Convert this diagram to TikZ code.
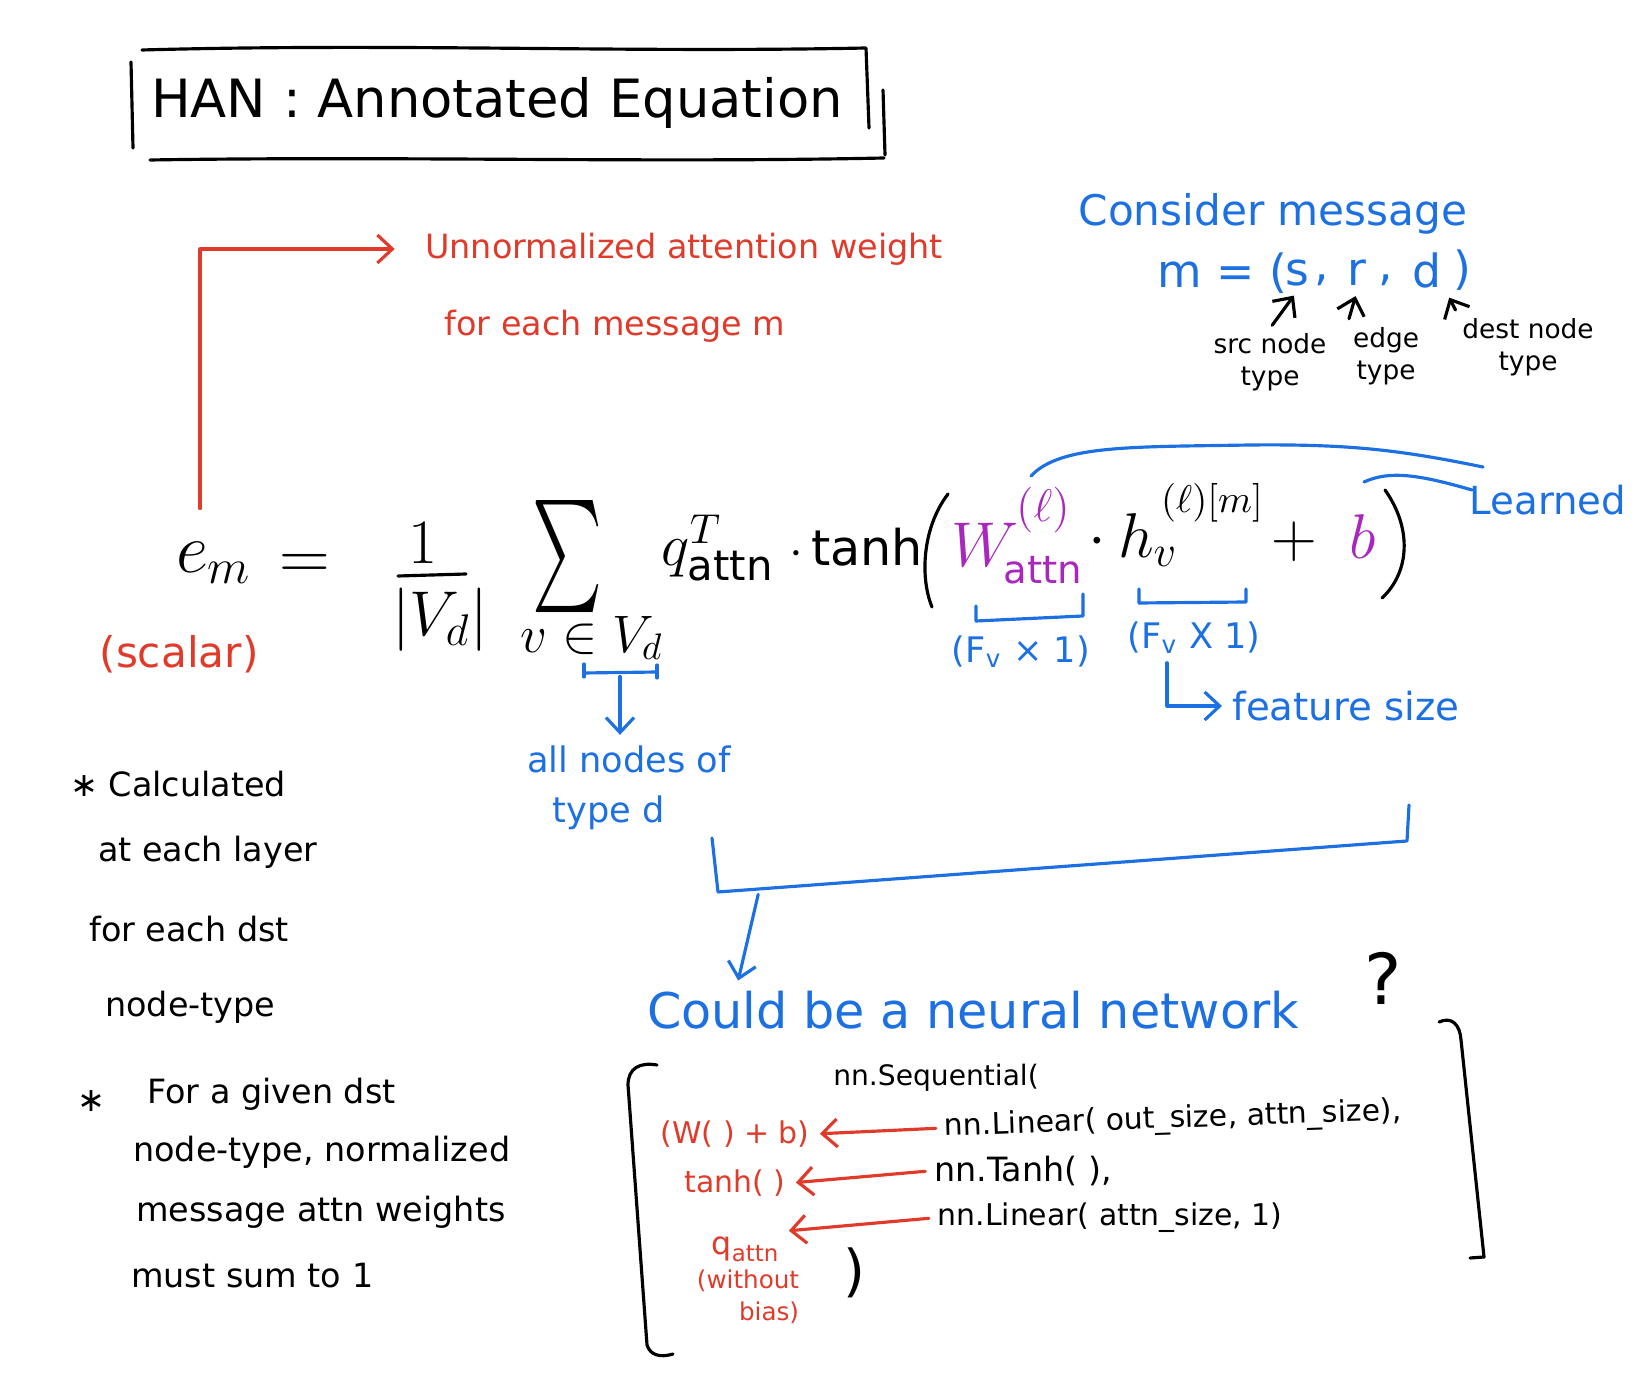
\RequirePackage{fix-cm}
\documentclass[tikz,border=0pt]{standalone}
\usepackage{fontspec}
\setmainfont{DejaVu Sans}
\usetikzlibrary{arrows.meta}
\definecolor{hred}{RGB}{224,58,42}
\definecolor{hblue}{RGB}{28,112,226}
\definecolor{hpurple}{RGB}{168,40,190}
\newcommand\fsz[2]{\fontsize{#1}{#2}\selectfont}
\begin{document}
\begin{tikzpicture}[x=0.01cm,y=-0.01cm,
  pen/.style={line width=0.9pt,line cap=round,line join=round},
  arr/.style={pen,-{Straight Barb[length=1.5mm,width=2.8mm]},shorten >=1.5pt,shorten <=1pt},
  lbl/.style={inner sep=0pt,outer sep=1.5pt},
  redt/.style={lbl,text=hred},
  bluet/.style={lbl,text=hblue},
  purt/.style={lbl,text=hpurple},
  note/.style={lbl,anchor=west,font=\fsz{9.5}{11}},
  code/.style={lbl,font=\fsz{8.5}{10}},
]
\useasboundingbox (0,0) rectangle (1649,1392);

% ---------- title ----------
\node[lbl,font=\fsz{15}{18}] (title) at (497,103) {HAN : Annotated Equation};
\draw[pen] (142,50) .. controls (400,43) and (620,53) .. (866,48) -- (869,128);
\draw[pen] (131,62) -- (133,148);
\draw[pen] (883,90) -- (885,155);
\draw[pen] (150,160) .. controls (400,156) and (650,163) .. (884,158);

% ---------- equation ----------
\node[lbl,font=\fsz{20}{24}] (em) at (214,563) {$e_m$};
\node[lbl,font=\fsz{20}{24}] (eq) at (305,567) {$=$};
\node[lbl,font=\fsz{18}{22}] (one) at (423,543) {$1$};
\draw[pen] (398,576) -- (466,574);
\node[lbl,font=\fsz{18}{22}] (vd) at (440,620) {$|V_d|$};
\node[lbl] (sum) at (568,557) {\resizebox{0.7cm}{0.84cm}{$\sum$}};
\node[lbl,font=\fsz{15}{18}] (sumidx) at (592,638) {$v\in V_d$};
\node[lbl,font=\fsz{17}{20}] (q) at (718,548) {$q^{T}_{\mathrm{attn}}$};
\node[lbl,font=\fsz{14}{18}] (tanh) at (856,547) {$\cdot\,\mathrm{tanh}$};
\draw[pen] (948,494) .. controls (922,528) and (920,578) .. (932,607);
\node[purt,font=\fsz{18}{22}] (W) at (985,545) {$W$};
\node[purt,font=\fsz{13}{16}] (Wsup) at (1043,510) {$(\ell)$};
\node[purt,font=\fsz{11}{13}] (Wsub) at (1043,570) {attn};
\node[lbl,font=\fsz{18}{22}] (dot2) at (1097,542) {$\cdot$};
\node[lbl,font=\fsz{18}{22}] (h) at (1148,540) {$h_v$};
\node[lbl,font=\fsz{11}{13}] (hsup) at (1212,503) {$(\ell)[m]$};
\node[lbl,font=\fsz{18}{22}] (plus) at (1294,542) {$+$};
\node[purt,font=\fsz{18}{22}] (b) at (1363,537) {$b$};
\draw[pen] (1385,490) .. controls (1412,528) and (1410,572) .. (1382,598);

% ---------- red annotations ----------
\node[redt,font=\fsz{9.5}{11}] (unnorm) at (684,249) {Unnormalized attention weight};
\node[redt,font=\fsz{9.5}{11}] (foreach) at (615,326) {for each message m};
\node[redt,font=\fsz{12}{14}] (scalar) at (179,654) {(scalar)};
\coordinate (rl1) at (200,512);
\draw[arr,hred] (rl1) |- ([xshift=-0.2cm]unnorm.west);

% ---------- message definition ----------
\node[bluet,font=\fsz{12}{14}] (consider) at (1273,214) {Consider message};
\node[bluet,font=\fsz{13}{15}] (mdef) at (1222,273) {m = (};
\node[bluet,font=\fsz{13}{15}] (ms) at (1297,273) {s};
\node[bluet,font=\fsz{13}{15}] (c1) at (1322,280) {,};
\node[bluet,font=\fsz{13}{15}] (mr) at (1357,273) {r};
\node[bluet,font=\fsz{13}{15}] (c2) at (1386,280) {,};
\node[bluet,font=\fsz{13}{15}] (md) at (1427,270) {d};
\node[bluet,font=\fsz{13}{15}] (mclose) at (1462,270) {)};
\node[lbl,font=\fsz{7.5}{9},align=center] (srcl) at (1270,362) {src node\\type};
\node[lbl,font=\fsz{7.5}{9},align=center] (edgel) at (1386,356) {edge\\type};
\node[lbl,font=\fsz{7.5}{9},align=center] (destl) at (1528,347) {dest node\\type};
\draw[arr] (srcl.north) ++(0.06,0) -- (ms.south);
\draw[arr] (edgel.north west) ++(0.25,0) -- (mr.south);
\draw[arr] (destl.north west) -- (md.south east);

% ---------- learned ----------
\node[bluet,font=\fsz{11}{13}] (learned) at (1548,500) {Learned};
\draw[pen,hblue] (1031,476) .. controls (1060,445) and (1130,447) .. (1250,445) .. controls (1350,444) and (1400,450) .. (1483,467);
\draw[pen,hblue] (1364,482) .. controls (1390,470) and (1420,475) .. (1472,490);

% ---------- dimension brackets ----------
\draw[pen,hblue] (976,606) -- (976,621) -- (1083,616) -- (1083,594);
\node[bluet,font=\fsz{10}{12}] (fx1) at (1021,652) {(F$_\mathrm{v}$ × 1)};
\draw[pen,hblue] (1139,589) -- (1139,603) -- (1246,602) -- (1246,589);
\node[bluet,font=\fsz{10}{12}] (fx2) at (1194,638) {(F$_\mathrm{v}$ X 1)};
\node[bluet,font=\fsz{11}{13}] (fsize) at (1346,706) {feature size};
\draw[arr,hblue] ([xshift=-0.27cm]fx2.south) |- (fsize.west);

% ---------- V_d bracket ----------
\draw[pen,hblue] (584,664) -- (584,677);
\draw[pen,hblue] (584,673) -- (657,672);
\draw[pen,hblue] (657,665) -- (657,678);
\coordinate (vdb) at (620,673);
\node[bluet,font=\fsz{10}{12}] (allnodes) at (629,759) {all nodes of};
\node[bluet,font=\fsz{10}{12}] (typed) at (609,813) {type d};
\draw[arr,hblue] (vdb) -- (allnodes.north -| vdb);

% ---------- big bracket & network ----------
\draw[pen,hblue] (712,838) -- (718,892) -- (1407,841) -- (1409,805);
\coordinate (bb) at (759,891);
\node[bluet,font=\fsz{14}{17}] (could) at (973,1010) {Could be a neural network};
\node[lbl,font=\fsz{20}{24}] (qm) at (1383,978) {?};
\draw[arr,hblue] (bb) -- ([xshift=0.95cm]could.north west);

\draw[pen] (657,1065) .. controls (640,1062) and (628,1068) .. (628,1085) -- (647,1345) .. controls (650,1355) and (660,1358) .. (673,1354);
\draw[pen] (1439,1022) .. controls (1452,1016) and (1460,1025) .. (1461,1040) -- (1484,1257) -- (1470,1258);

\node[code,font=\fsz{8}{10}] (seq) at (936,1078) {nn.Sequential(};
\node[code,rotate=2] (lin1) at (1173,1120) {nn.Linear( out\_size, attn\_size),};
\node[code,font=\fsz{9.5}{11}] (tanhc) at (1023,1171) {nn.Tanh( ),};
\node[code] (lin2) at (1110,1218) {nn.Linear( attn\_size, 1)};
\node[lbl,font=\fsz{16}{18}] (close) at (854,1273) {)};

\node[redt,font=\fsz{8.5}{10}] (wb) at (735,1134) {(W( ) + b)};
\node[redt,font=\fsz{8.5}{10}] (tanhr) at (735,1183) {tanh( )};
\node[redt,font=\fsz{9}{10}] (qattn) at (745,1249) {q\raisebox{-0.4ex}{\fsz{6.5}{7}attn}};
\node[redt,font=\fsz{7}{9},align=right] (wob) at (748,1297) {(without\\bias)};
\draw[arr,hred] (lin1.west) -- (wb.east);
\draw[arr,hred] (tanhc.west) -- (tanhr.east);
\draw[arr,hred] (lin2.west) -- (qattn.north east);

% ---------- notes ----------
\node[note] (n1) at (65,784) {∗ Calculated};
\node[note] (n2) at (93,852) {at each layer};
\node[note] (n3) at (84,929) {for each dst};
\node[note] (n4) at (100,1007) {node-type};
\node[note] (n5s) at (72,1101) {∗};
\node[note] (n5) at (142,1094) {For a given dst};
\node[note] (n6) at (128,1152) {node-type, normalized};
\node[note] (n7) at (131,1212) {message attn weights};
\node[note] (n8) at (126,1276) {must sum to 1};
\end{tikzpicture}
\end{document}
